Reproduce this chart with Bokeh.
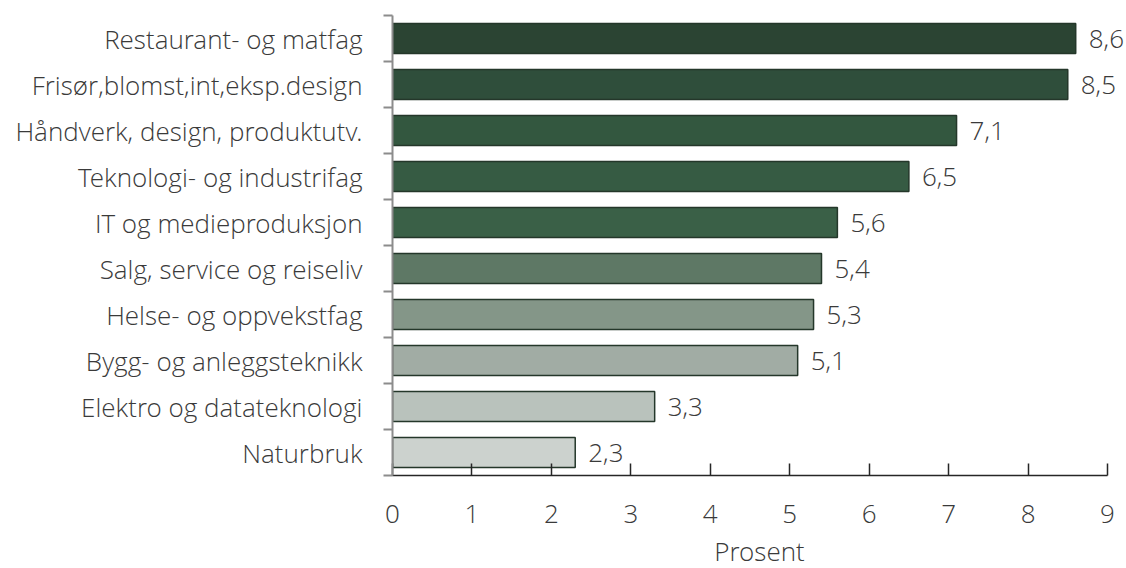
from bokeh.plotting import figure
from bokeh.models import Range1d, FixedTicker, ColumnDataSource
from bokeh.embed import file_html
from bokeh.resources import INLINE
from bokeh.core.properties import value

categories = ["Restaurant- og matfag", "Frisør,blomst,int,eksp.design", "Håndverk, design, produktutv.",
              "Teknologi- og industrifag", "IT og medieproduksjon", "Salg, service og reiseliv",
              "Helse- og oppvekstfag", "Bygg- og anleggsteknikk", "Elektro og datateknologi", "Naturbruk"]
values = [8.6, 8.5, 7.1, 6.5, 5.6, 5.4, 5.3, 5.1, 3.3, 2.3]
labels = ["8,6", "8,5", "7,1", "6,5", "5,6", "5,4", "5,3", "5,1", "3,3", "2,3"]
colors = ["#2b4433", "#2f4e3b", "#33573f", "#365b43", "#3a6047", "#5e7865",
          "#849688", "#a1aca4", "#b9c2bc", "#ccd2ce"]
x_ticks = [0, 1, 2, 3, 4, 5, 6, 7, 8, 9]
x_title = "Prosent"

n = len(categories)
ys = [n - i - 0.5 for i in range(n)]
src = ColumnDataSource(dict(y=ys, v=values, lab=labels, c=colors))

FONT = "'Open Sans Light', 'Open Sans'"
TXT = "#3a3a3a"
FS = "26px"
frame_w = 1126 - 392
p = figure(frame_width=frame_w, frame_height=460, output_backend="svg", toolbar_location=None,
           x_range=Range1d(0, frame_w / (715 / 9)), y_range=Range1d(0, n),
           min_border_left=392, min_border_right=0, min_border_top=15, min_border_bottom=0)
p.outline_line_color = None
p.grid.grid_line_color = None

p.hbar(y="y", right="v", left=0, height=0.65, source=src, fill_color="c",
       line_color="#24372a", line_width=1.5)
p.text(x="v", y="y", text="lab", source=src, x_offset=13, text_align="left",
       text_baseline="middle", text_font=value(FONT), text_font_size=FS, text_color=TXT)

xa = p.xaxis[0]
xa.ticker = FixedTicker(ticks=x_ticks)
xa.bounds = (0, 9)
xa.axis_line_color = "#262626"
xa.axis_line_width = 1.5
xa.major_tick_line_color = "#262626"
xa.major_tick_line_width = 1.5
xa.major_tick_in = 12
xa.major_tick_out = 0
xa.minor_tick_line_color = None
xa.major_label_standoff = 29
xa.major_label_text_font = FONT
xa.major_label_text_font_size = FS
xa.major_label_text_color = TXT
xa.axis_label = x_title
xa.axis_label_text_font = FONT
xa.axis_label_text_font_size = FS
xa.axis_label_text_font_style = "normal"
xa.axis_label_text_color = TXT
xa.axis_label_standoff = 7

ya = p.yaxis[0]
ya.ticker = FixedTicker(ticks=ys, minor_ticks=list(range(n + 1)))
ya.major_label_overrides = {y: c for y, c in zip(ys, categories)}
ya.axis_line_color = "#8c8c8c"
ya.axis_line_width = 2
ya.major_tick_line_color = None
ya.major_tick_in = 0
ya.major_tick_out = 0
ya.minor_tick_line_color = "#8c8c8c"
ya.minor_tick_line_width = 2
ya.minor_tick_out = 9
ya.minor_tick_in = 0
ya.major_label_standoff = 21
ya.major_label_text_font = FONT
ya.major_label_text_font_size = FS
ya.major_label_text_color = TXT

open("out.html", "w").write(file_html(p, INLINE))
